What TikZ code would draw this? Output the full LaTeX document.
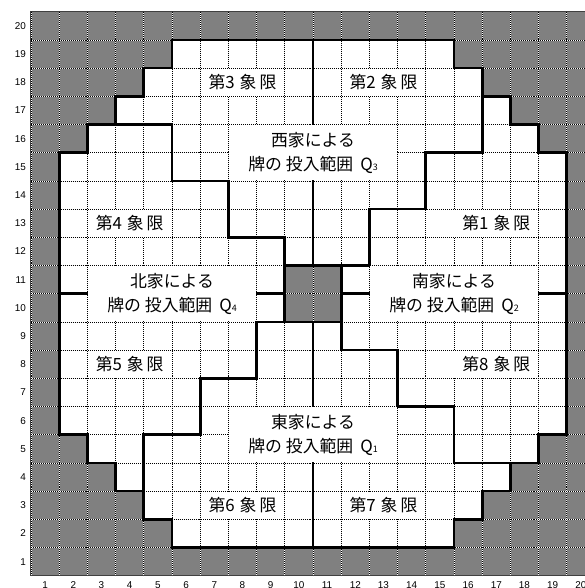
\documentclass[tikz,border=0pt]{standalone}
\usepackage{fontspec}
\usepackage[HTML]{xcolor}
\usepackage{tikz}
\usetikzlibrary{positioning}

\newfontfamily\jpfont{Noto Sans CJK JP}
\newfontfamily\numfont{Liberation Sans}
\definecolor{tilegray}{HTML}{808080}
\definecolor{framegray}{HTML}{404040}
\newcommand{\qsub}[1]{\raisebox{-0.8pt}{\fontsize{9}{9}\selectfont #1}}

\begin{document}
\begin{tikzpicture}[x=1cm, y=1cm,
    wall/.style={line width=2.8pt, line cap=rect, line join=miter},
    gridline/.style={line width=0.7pt, dash pattern=on 1pt off 1pt},
    numlabel/.style={font=\numfont\fontsize{10}{12}\selectfont, inner sep=0pt},
    zone/.style={fill=white, inner sep=0pt, align=center,
        minimum width=6cm-1pt, minimum height=2cm-1pt,
        font=\jpfont\fontsize{17}{24}\selectfont},
    quadrant/.style={fill=white, inner sep=0pt,
        minimum width=3cm-1pt, minimum height=1cm-1pt,
        font=\jpfont\fontsize{17}{20}\selectfont}]

\useasboundingbox (-1.099,-0.436) rectangle (19.645,20.415);

% --- Board: gray outside, white playing area ---
\fill[tilegray] (0,0) rectangle (20,20);
\fill[white] (5,19) -- (15,19) -- (15,18) -- (16,18) -- (16,17) -- (17,17)
    -- (17,16) -- (18,16) -- (18,15) -- (19,15) -- (19,5) -- (18,5)
    -- (18,4) -- (17,4) -- (17,3) -- (16,3) -- (16,2) -- (15,2)
    -- (15,1) -- (5,1) -- (5,2) -- (4,2) -- (4,3) -- (3,3)
    -- (3,4) -- (2,4) -- (2,5) -- (1,5) -- (1,15) -- (2,15)
    -- (2,16) -- (3,16) -- (3,17) -- (4,17) -- (4,18) -- (5,18) -- cycle;
\fill[tilegray] (9,9) rectangle (11,11);

% --- Dotted grid ---
\draw[white, line width=0.7pt] (0,0) grid (20,20);
\draw[gridline] (0,0) grid (20,20);
\draw[framegray, line width=1pt] (0,0) rectangle (20,20);

% --- Outline of the playing area ---
\draw[wall] (5,19) -- (15,19) -- (15,18) -- (16,18) -- (16,17) -- (17,17)
    -- (17,16) -- (18,16) -- (18,15) -- (19,15) -- (19,5) -- (18,5)
    -- (18,4) -- (17,4) -- (17,3) -- (16,3) -- (16,2) -- (15,2)
    -- (15,1) -- (5,1) -- (5,2) -- (4,2) -- (4,3) -- (3,3)
    -- (3,4) -- (2,4) -- (2,5) -- (1,5) -- (1,15) -- (2,15)
    -- (2,16) -- (3,16) -- (3,17) -- (4,17) -- (4,18) -- (5,18) -- cycle;

% --- Borders between the four ranges Q1..Q4 ---
\draw[wall] (3,16) -- (5,16) -- (5,14) -- (7,14) -- (7,12) -- (9,12) -- (9,11);
\draw[wall] (16,17) -- (16,15) -- (14,15) -- (14,13) -- (12,13) -- (12,11) -- (11,11);
\draw[wall] (17,4) -- (15,4) -- (15,6) -- (13,6) -- (13,8) -- (11,8) -- (11,9);
\draw[wall] (4,3) -- (4,5) -- (6,5) -- (6,7) -- (8,7) -- (8,9) -- (9,9);
\draw[wall] (9,9) rectangle (11,11);

% --- Quadrant dividers ---
\draw[wall] (10,19) -- (10,11);
\draw[wall] (10,9) -- (10,1);
\draw[wall] (1,10) -- (9,10);
\draw[wall] (11,10) -- (19,10);

% --- Ranges ---
\node[zone] (west)  at (10,15) {西家による\\牌の\hspace{4pt}投入範囲\hspace{7pt}Q\qsub{3}};
\node[zone] (south) at (15,10) {南家による\\牌の\hspace{4pt}投入範囲\hspace{7pt}Q\qsub{2}};
\node[zone] (east)  at (10,5)  {東家による\\牌の\hspace{4pt}投入範囲\hspace{7pt}Q\qsub{1}};
\node[zone] (north) at (5,10)  {北家による\\牌の\hspace{4pt}投入範囲\hspace{7pt}Q\qsub{4}};

% --- Quadrants ---
\node[quadrant] (quad1) at (16.5,12.5) {第1\hspace{5pt}象\hspace{3pt}限};
\node[quadrant] (quad2) at (12.5,17.5) {第2\hspace{5pt}象\hspace{3pt}限};
\node[quadrant] (quad3) at (7.5,17.5)  {第3\hspace{5pt}象\hspace{3pt}限};
\node[quadrant] (quad4) at (3.5,12.5)  {第4\hspace{5pt}象\hspace{3pt}限};
\node[quadrant] (quad5) at (3.5,7.5)   {第5\hspace{5pt}象\hspace{3pt}限};
\node[quadrant] (quad6) at (7.5,2.5)   {第6\hspace{5pt}象\hspace{3pt}限};
\node[quadrant] (quad7) at (12.5,2.5)  {第7\hspace{5pt}象\hspace{3pt}限};
\node[quadrant] (quad8) at (16.5,7.5)  {第8\hspace{5pt}象\hspace{3pt}限};

% --- Row and column numbers ---
\foreach \i in {1,...,20} {
    \node[numlabel, anchor=east] (row\i) at (-0.17,\i-0.5) {\i};
    \node[numlabel] (col\i) at (\i-0.5,-0.34) {\i};
}

\end{tikzpicture}
\end{document}
